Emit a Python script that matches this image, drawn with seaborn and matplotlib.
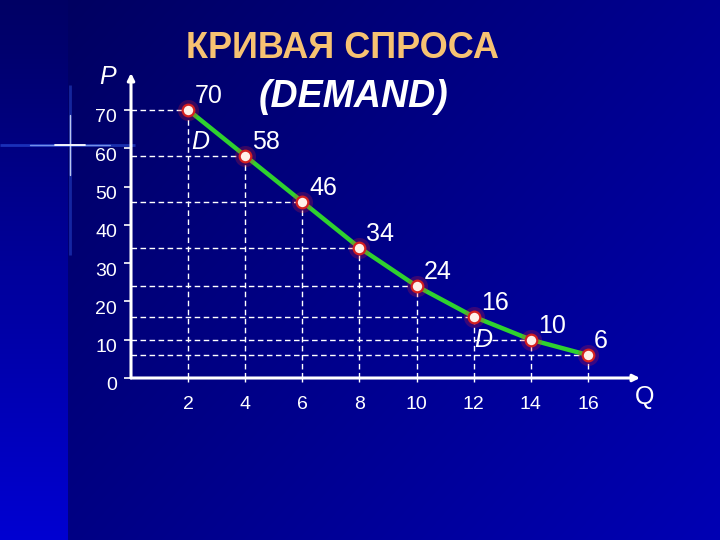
import numpy as np
import pandas as pd
import matplotlib
matplotlib.use("Agg")
import matplotlib.pyplot as plt
import matplotlib.transforms as mtransforms
import seaborn as sns

# ---- data ----
quantity = [2, 4, 6, 8, 10, 12, 14, 16]
price = [70, 58, 46, 34, 24, 16, 10, 6]
y_ticks = [0, 10, 20, 30, 40, 50, 60, 70]
x_ticks = [2, 4, 6, 8, 10, 12, 14, 16]
title_ru = "КРИВАЯ СПРОСА"
title_en = "(DEMAND)"
curve_label = "D"

df = pd.DataFrame({"Q": quantity, "P": price})

sns.set_theme(style="white")
plt.rcParams["font.family"] = ["Liberation Sans", "DejaVu Sans"]

W, H = 720, 540
fig = plt.figure(figsize=(W / 100, H / 100), dpi=100)

# ---- background gradient ----
bg = fig.add_axes([0, 0, 1, 1], zorder=-10)
yy, xx = np.mgrid[0:H, 0:W]
b = 92 + 88 * (0.6 * xx / W + 0.4 * yy / H)
strip = xx < 68
b[strip] = (100 + 110 * yy / H)[strip]
img = np.zeros((H, W, 3))
img[..., 2] = b / 255.0
bg.imshow(img, aspect="auto", extent=[0, W, H, 0])
bg.set_xlim(0, W)
bg.set_ylim(H, 0)
bg.axis("off")
# decorative cross glow
bg.plot([0, 135], [145, 145], color="#3a6cff", lw=2.0, alpha=0.45, solid_capstyle="butt")
bg.plot([30, 110], [145, 145], color="#9ab8ff", lw=1.0, alpha=0.7)
bg.plot([70, 70], [85, 255], color="#3a6cff", lw=2.0, alpha=0.35, solid_capstyle="butt")
bg.plot([70, 70], [115, 175], color="#d8e4ff", lw=1.0, alpha=0.85)
bg.plot([55, 85], [145, 145], color="white", lw=1.3)

# ---- main axes ----
x0, y0 = 131, 378
px_x, px_y = 28.56, 3.83
x_end, y_end = 640, 73
ax = fig.add_axes([x0 / W, (H - y0) / H, (x_end - x0) / W, (y0 - y_end) / H])
ax.set_facecolor("none")
ax.set_xlim(0, (x_end - x0) / px_x)
ax.set_ylim(0, (y0 - y_end) / px_y)
for s in ax.spines.values():
    s.set_visible(False)

# dashed guide lines
ax.hlines(df["P"], 0, df["Q"], colors="white", lw=1.0, linestyles=(0, (4, 2.5)), zorder=1)
ax.vlines(df["Q"], 0, df["P"], colors="white", lw=1.0, linestyles=(0, (4, 2.5)), zorder=1)

# axes arrows
ax.annotate("", xy=(0, 1.0), xytext=(0, 0), xycoords="axes fraction",
            arrowprops=dict(arrowstyle="-|>", color="white", lw=2.2, mutation_scale=10,
                            shrinkA=0, shrinkB=0), zorder=3, annotation_clip=False)
ax.annotate("", xy=(1.0, 0), xytext=(0, 0), xycoords="axes fraction",
            arrowprops=dict(arrowstyle="-|>", color="white", lw=2.2, mutation_scale=10,
                            shrinkA=0, shrinkB=0), zorder=3, annotation_clip=False)

# demand curve
sns.lineplot(data=df, x="Q", y="P", ax=ax, color="#2fd12f", lw=3.2, zorder=4)
ax.scatter(df["Q"], df["P"], s=230, color="#ff2020", alpha=0.22, lw=0, zorder=5)
sns.scatterplot(data=df, x="Q", y="P", ax=ax, s=70, color="#fff0ea",
                edgecolor="#d42020", linewidth=1.6, zorder=6)

# value labels
for q, p in zip(quantity, price):
    dx = 13 if q == quantity[-1] else 21
    ax.annotate(str(p), (q, p), xytext=(dx, 14), textcoords="offset pixels",
                ha="center", va="center", color="white", fontsize=18, zorder=7)

# curve labels D
ax.text(2.44, 61.5, curve_label, color="white", fontsize=18, style="italic",
        ha="center", va="center")
ax.text(12.33, 10.0, curve_label, color="white", fontsize=18, style="italic",
        ha="center", va="center")

# ticks
ax.set_xticks(x_ticks)
ax.set_yticks(y_ticks)
ax.set_xticklabels([str(v) for v in x_ticks])
ax.set_yticklabels([str(v) for v in y_ticks])
ax.tick_params(axis="y", colors="white", labelsize=14, length=5, width=1.2, direction="out",
               pad=5, left=True)
ax.tick_params(axis="x", colors="white", labelsize=14, length=3, width=1.0, direction="out",
               pad=10, bottom=True)
shift = mtransforms.ScaledTranslation(0, -6 / 100, fig.dpi_scale_trans)
for lab in ax.get_yticklabels():
    lab.set_transform(lab.get_transform() + shift)
ax.set_xlabel("")
ax.set_ylabel("")

# axis names
fig.text(108 / W, 1 - 77 / H, "P", color="white", fontsize=18, style="italic",
         ha="center", va="center")
fig.text(645 / W, 1 - 397 / H, "Q", color="white", fontsize=18,
         ha="center", va="center")

# titles
fig.text(342 / W, 1 - 48 / H, title_ru, color="#f7c272", fontsize=26, fontweight="bold",
         ha="center", va="center")
fig.text(354 / W, 1 - 97 / H, title_en, color="white", fontsize=27, fontweight="bold",
         style="italic", ha="center", va="center")

fig.savefig("out.png", dpi=100)
